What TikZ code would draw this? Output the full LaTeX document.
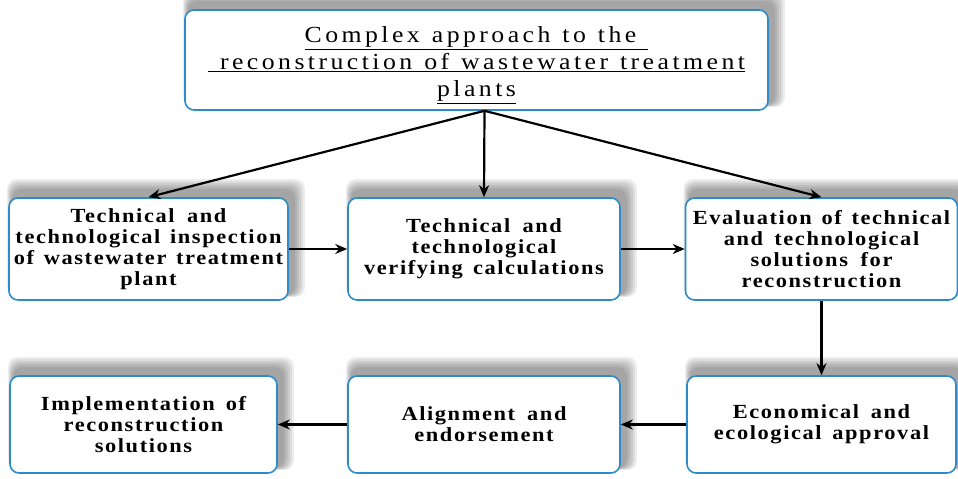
\documentclass[tikz,border=0pt]{standalone}
\usepackage{fontspec}
\setmainfont{Liberation Serif}
\newfontfamily\boxfont[FakeStretch=1.12,LetterSpace=8]{Liberation Serif}
\newfontfamily\topfont[FakeStretch=1.12,LetterSpace=15]{Liberation Serif}
\newcommand\wsbox{\spaceskip=9.5pt plus 2pt\relax}
\newcommand\wstop{\spaceskip=12pt plus 2pt\relax}
\usetikzlibrary{arrows.meta,calc,backgrounds}
\definecolor{bordblue}{RGB}{45,140,200}
\begin{document}
\begin{tikzpicture}[x=1pt,y=1pt,
  box/.style={draw=bordblue, line width=1.6pt, fill=white, rounded corners=9pt,
    align=center, inner sep=2pt, font=\boxfont\bfseries\fontsize{20}{21}\selectfont,
    execute at begin node=\wsbox},
  arr/.style={line width=2.2pt, -{Stealth[length=12pt,width=10pt]}}]
\useasboundingbox (0,0) rectangle (958,479);
\node[box, minimum width=583, minimum height=100, text width=578,
  font=\topfont\fontsize{23}{27}\selectfont, execute at begin node=\wstop] (top) at (476.5,419)
  {\rule{0pt}{26pt}\underline{Complex approach to the\ }\\ \underline{\ reconstruction of wastewater treatment}\\ \underline{plants}};
\node[box, minimum width=277, minimum height=102, text width=275] (A) at (148.5,230)
  {Technical and\\ technological inspection\\ of wastewater treatment\\ plant};
\node[box, minimum width=272, minimum height=102, text width=268] (B) at (484,230)
  {Technical and\\ technological\\ verifying calculations};
\node[box, minimum width=269, minimum height=102, text width=268] (C) at (821.5,230)
  {Evaluation of technical\\ and technological\\ solutions for\\ reconstruction};
\node[box, minimum width=267, minimum height=97, text width=262] (D) at (143.5,54.5)
  {Implementation of\\ reconstruction\\ solutions};
\node[box, minimum width=272, minimum height=97, text width=266] (E) at (484,54.5)
  {Alignment and\\ endorsement};
\node[box, minimum width=269, minimum height=97, text width=264] (F) at (821.5,54.5)
  {Economical and\\ ecological approval};
\begin{scope}[on background layer]
\foreach \n in {top,A,B,C,D,E,F}{
  \foreach \i in {0,2,...,10}{
    \fill[black, opacity=0.07, rounded corners=9pt]
      ($(\n.south west)+(4-0.5*\i,6-0.2*\i)$) rectangle ($(\n.north east)+(6+\i,8+\i)$);
  }
}
\end{scope}
\coordinate (s) at ($(top.south)+(8,0)$);
\draw[arr] (s) -- (A.north);
\draw[arr] (s) -- (B.north);
\draw[arr] (s) -- (C.north);
\draw[arr] (A.east) -- (B.west);
\draw[arr] (B.east) -- (C.west);
\draw[arr] (C.south) -- (F.north);
\draw[arr] (F.west) -- (E.east);
\draw[arr] (E.west) -- (D.east);
\end{tikzpicture}
\end{document}
